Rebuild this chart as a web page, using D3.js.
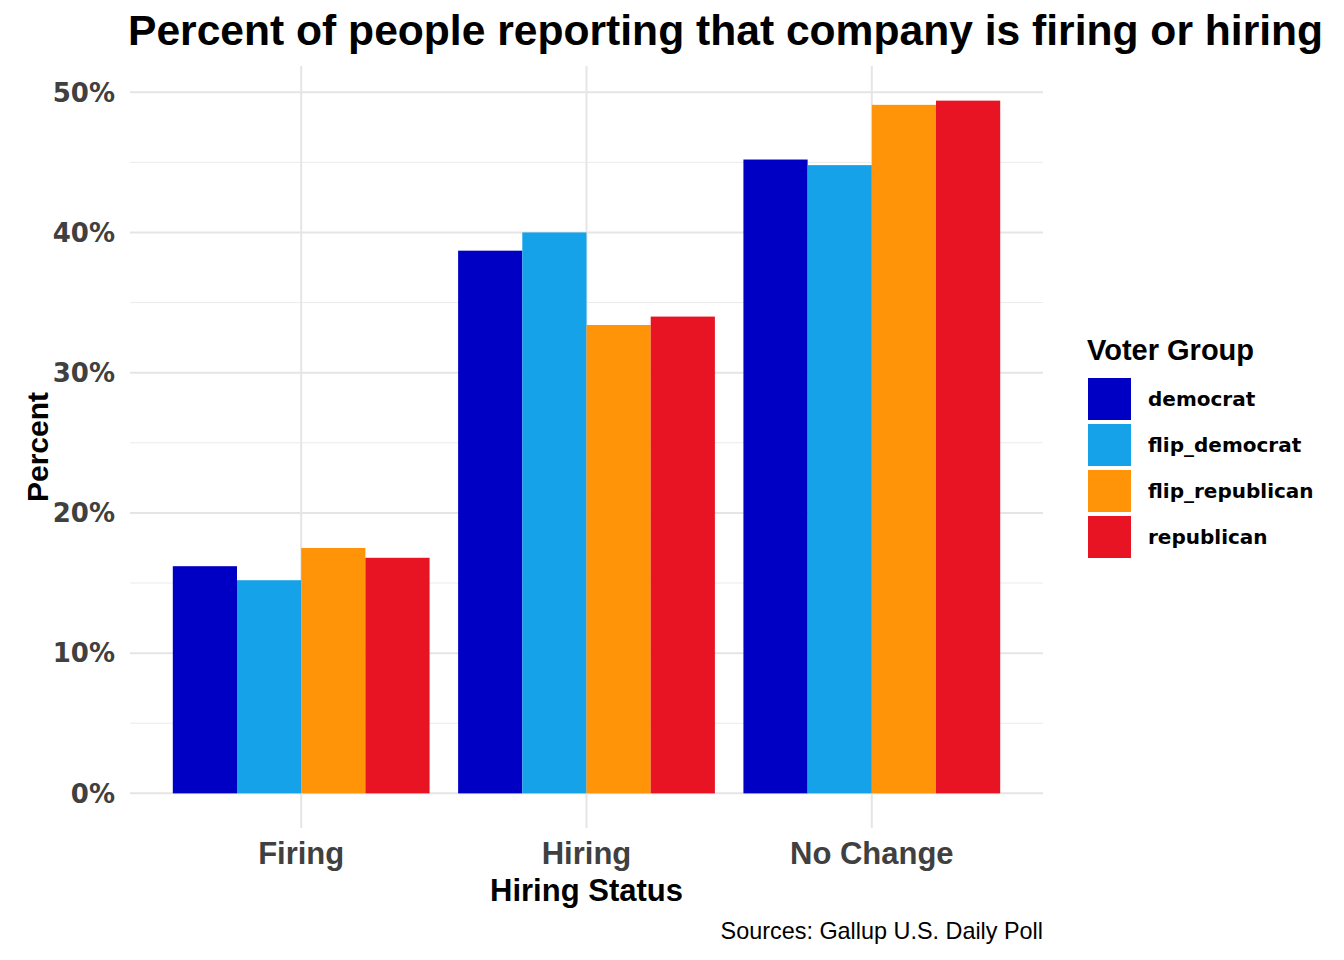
<!DOCTYPE html>
<html>
<head>
<meta charset="utf-8">
<script src="https://cdn.jsdelivr.net/npm/d3@7"></script>
<style>
  body { margin: 0; background: #fff; }
  svg text { font-family: "Liberation Sans", Arial, sans-serif; }
</style>
</head>
<body>
<svg id="chart" width="1344" height="960"></svg>
<script>
// categories and groups
var categories = ["Firing", "Hiring", "No Change"];
var groups = ["democrat", "flip_democrat", "flip_republican", "republican"];
var groupColors = ["#0000c4", "#16a2e8", "#ff9408", "#e81423"];

// percent values per group, in category order
var democrat = [16.2, 38.7, 45.2];
var flipDemocrat = [15.2, 40.0, 44.8];
var flipRepublican = [17.5, 33.4, 49.1];
var republican = [16.8, 34.0, 49.4];

var yTicks = [0, 10, 20, 30, 40, 50];
var yMinor = [5, 15, 25, 35, 45];

var seriesValues = [democrat, flipDemocrat, flipRepublican, republican];

var svg = d3.select("#chart");

var panel = { left: 130, right: 1043, top: 66, bottom: 828 };

// ggplot-style expansion: 0.6 units on each side of a discrete axis
var xPos = d3.scaleLinear()
	.domain([0.4, categories.length + 0.6])
	.range([panel.left, panel.right]);

var yMax = d3.max(seriesValues, function (s) { return d3.max(s); });
var y = d3.scaleLinear()
	.domain([-yMax * 0.05, yMax * 1.05])
	.range([panel.bottom, panel.top]);

var inner = d3.scaleBand()
	.domain(groups)
	.range([-0.45, 0.45]);

var color = d3.scaleOrdinal().domain(groups).range(groupColors);

// grid lines
svg.append("g").selectAll("line.minor")
	.data(yMinor)
	.enter().append("line")
	.attr("x1", panel.left).attr("x2", panel.right)
	.attr("y1", function (d) { return y(d); })
	.attr("y2", function (d) { return y(d); })
	.attr("stroke", "#ebebeb").attr("stroke-width", 1);

svg.append("g").selectAll("line.major")
	.data(yTicks)
	.enter().append("line")
	.attr("x1", panel.left).attr("x2", panel.right)
	.attr("y1", function (d) { return y(d); })
	.attr("y2", function (d) { return y(d); })
	.attr("stroke", "#e5e5e5").attr("stroke-width", 2);

svg.append("g").selectAll("line.vmajor")
	.data(categories)
	.enter().append("line")
	.attr("x1", function (d, i) { return xPos(i + 1); })
	.attr("x2", function (d, i) { return xPos(i + 1); })
	.attr("y1", panel.top).attr("y2", panel.bottom)
	.attr("stroke", "#e5e5e5").attr("stroke-width", 2);

// bars
var bars = [];
categories.forEach(function (c, ci) {
	groups.forEach(function (g, gi) {
		bars.push({ cat: ci, group: g, value: seriesValues[gi][ci] });
	});
});

svg.append("g").selectAll("rect")
	.data(bars)
	.enter().append("rect")
	.attr("x", function (d) { return xPos(d.cat + 1 + inner(d.group)); })
	.attr("width", function (d) { return xPos(inner.bandwidth()) - xPos(0); })
	.attr("y", function (d) { return y(d.value); })
	.attr("height", function (d) { return y(0) - y(d.value); })
	.attr("fill", function (d) { return color(d.group); });

// y axis labels
svg.append("g").selectAll("text")
	.data(yTicks)
	.enter().append("text")
	.attr("x", 115)
	.attr("y", function (d) { return y(d); })
	.attr("dy", "0.36em")
	.attr("text-anchor", "end")
	.style("font-family", "'DejaVu Sans', sans-serif")
	.style("font-weight", "bold")
	.style("font-size", "26px")
	.attr("fill", "#404040")
	.text(function (d) { return d + "%"; });

// x axis labels
svg.append("g").selectAll("text")
	.data(categories)
	.enter().append("text")
	.attr("x", function (d, i) { return xPos(i + 1); })
	.attr("y", 864)
	.attr("text-anchor", "middle")
	.style("font-weight", "bold")
	.style("font-size", "31px")
	.attr("fill", "#404040")
	.text(function (d) { return d; });

// axis titles
svg.append("text")
	.attr("x", (panel.left + panel.right) / 2)
	.attr("y", 901)
	.attr("text-anchor", "middle")
	.style("font-weight", "bold")
	.style("font-size", "31px")
	.text("Hiring Status");

svg.append("text")
	.attr("transform", "translate(48," + ((panel.top + panel.bottom) / 2) + ") rotate(-90)")
	.attr("text-anchor", "middle")
	.style("font-weight", "bold")
	.style("font-size", "30px")
	.text("Percent");

// title and caption
svg.append("text")
	.attr("x", 128)
	.attr("y", 45)
	.style("font-weight", "bold")
	.style("font-size", "42.6px")
	.text("Percent of people reporting that company is firing or hiring");

svg.append("text")
	.attr("x", panel.right)
	.attr("y", 939)
	.attr("text-anchor", "end")
	.style("font-size", "23.4px")
	.text("Sources: Gallup U.S. Daily Poll");

// legend
var legend = svg.append("g").attr("transform", "translate(1087,0)");
legend.append("text")
	.attr("x", 0).attr("y", 360)
	.style("font-weight", "bold")
	.style("font-size", "29px")
	.text("Voter Group");

var item = legend.selectAll("g.item")
	.data(groups)
	.enter().append("g")
	.attr("transform", function (d, i) { return "translate(0," + (378 + i * 46) + ")"; });

item.append("rect")
	.attr("x", 1).attr("width", 43).attr("height", 42)
	.attr("fill", function (d) { return color(d); });

item.append("text")
	.attr("x", 61).attr("y", 21).attr("dy", "0.36em")
	.style("font-family", "'DejaVu Sans', sans-serif")
	.style("font-weight", "bold")
	.style("font-size", "20px")
	.text(function (d) { return d; });
</script>
</body>
</html>
